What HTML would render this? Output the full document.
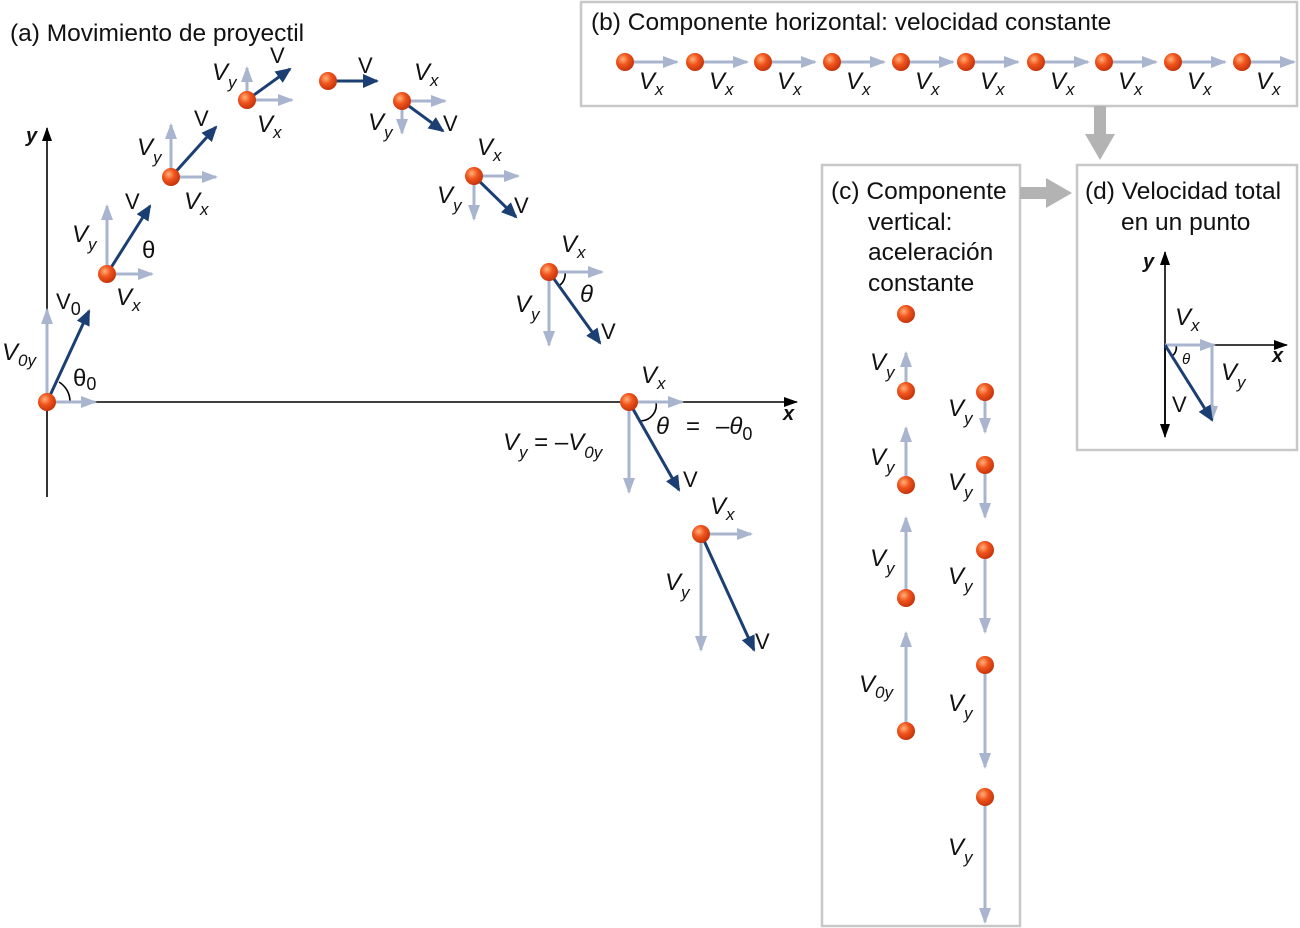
<!DOCTYPE html>
<html><head><meta charset="utf-8"><style>
html,body{margin:0;padding:0;background:#fff}
svg{display:block}
text{font-family:"Liberation Sans",sans-serif;fill:#111}
.l{font-size:22px}
.t{font-size:24.5px}
.i{font-style:italic;font-size:24px}
</style></head><body>
<svg width="1300" height="928" viewBox="0 0 1300 928" xmlns="http://www.w3.org/2000/svg">
<defs>
<radialGradient id="b" cx="0.38" cy="0.35" r="0.7">
<stop offset="0" stop-color="#ffb27a"/><stop offset="0.45" stop-color="#f0541c"/><stop offset="1" stop-color="#c0300a"/></radialGradient>
<marker id="la" markerUnits="userSpaceOnUse" markerWidth="16" markerHeight="12" refX="14" refY="6" orient="auto"><path d="M0,0L16,6L0,12z" fill="#a9b5cf"/></marker>
<marker id="da" markerUnits="userSpaceOnUse" markerWidth="16" markerHeight="14" refX="14" refY="7" orient="auto"><path d="M0,0L16,7L0,14z" fill="#1b3f73"/></marker>
<marker id="ka" markerUnits="userSpaceOnUse" markerWidth="14" markerHeight="10" refX="13" refY="5" orient="auto"><path d="M0,0L14,5L0,10z" fill="#000"/></marker>
<marker id="ga" markerUnits="userSpaceOnUse" markerWidth="30" markerHeight="30" refX="2" refY="15" orient="auto"><path d="M0,0L26,15L0,30z" fill="#b3b3b3"/></marker>
</defs>
<g fill="none" stroke-width="1.6" stroke="#000">
<line x1="47" y1="497" x2="47" y2="128" marker-end="url(#ka)"/>
<line x1="47" y1="402" x2="797" y2="402" marker-end="url(#ka)"/>
<line x1="1165" y1="435" x2="1165" y2="252" marker-end="url(#ka)"/>
<line x1="1165" y1="345" x2="1165" y2="437" marker-end="url(#ka)"/>
<line x1="1165" y1="345" x2="1287" y2="345" marker-end="url(#ka)"/>
<path d="M70,402 A23,23 0 0 0 59,382"/>
<path d="M560,285 A14,14 0 0 0 565,272"/>
<path d="M641,421 A16,16 0 0 0 656,402"/>
<path d="M1172,356 A10,10 0 0 0 1176,345"/>
</g>
<g stroke="#a9b5cf" stroke-width="3" marker-end="url(#la)">
<line x1="47" y1="402" x2="95" y2="402"/><line x1="47" y1="402" x2="47" y2="310"/>
<line x1="107" y1="274" x2="152" y2="274"/><line x1="107" y1="274" x2="107" y2="206"/>
<line x1="171" y1="177" x2="216" y2="177"/><line x1="171" y1="177" x2="171" y2="125"/>
<line x1="247" y1="100" x2="292" y2="100"/><line x1="247" y1="100" x2="247" y2="68"/>
<line x1="402" y1="101" x2="445" y2="101"/><line x1="402" y1="101" x2="402" y2="133"/>
<line x1="474" y1="176" x2="518" y2="176"/><line x1="474" y1="176" x2="474" y2="219"/>
<line x1="549" y1="272" x2="602" y2="272"/><line x1="549" y1="272" x2="549" y2="345"/>
<line x1="629" y1="402" x2="682" y2="402"/><line x1="629" y1="402" x2="629" y2="492"/>
<line x1="701" y1="534" x2="751" y2="534"/><line x1="701" y1="534" x2="701" y2="650"/>
<line x1="625" y1="62" x2="677" y2="62"/><line x1="695" y1="62" x2="747" y2="62"/><line x1="763" y1="62" x2="815" y2="62"/><line x1="832" y1="62" x2="884" y2="62"/><line x1="901" y1="62" x2="953" y2="62"/><line x1="966" y1="62" x2="1018" y2="62"/><line x1="1036" y1="62" x2="1088" y2="62"/><line x1="1104" y1="62" x2="1156" y2="62"/><line x1="1173" y1="62" x2="1225" y2="62"/><line x1="1242" y1="62" x2="1294" y2="62"/>
<line x1="906" y1="391" x2="906" y2="353"/><line x1="906" y1="485" x2="906" y2="428"/><line x1="906" y1="598" x2="906" y2="518"/><line x1="906" y1="731" x2="906" y2="633"/>
<line x1="985" y1="392" x2="985" y2="432"/><line x1="985" y1="465" x2="985" y2="517"/><line x1="985" y1="550" x2="985" y2="632"/><line x1="985" y1="665" x2="985" y2="767"/><line x1="985" y1="797" x2="985" y2="922"/>
<line x1="1165" y1="345" x2="1214" y2="345"/><line x1="1212" y1="345" x2="1212" y2="420"/>
</g>
<g stroke="#1b3f73" stroke-width="3" marker-end="url(#da)">
<line x1="47" y1="402" x2="89" y2="311"/><line x1="107" y1="274" x2="150" y2="206"/><line x1="171" y1="177" x2="216" y2="127"/><line x1="247" y1="100" x2="290" y2="69"/><line x1="328" y1="81" x2="377" y2="81"/><line x1="402" y1="101" x2="443" y2="131"/><line x1="474" y1="176" x2="516" y2="217"/><line x1="549" y1="272" x2="600" y2="343"/><line x1="629" y1="402" x2="679" y2="490"/><line x1="701" y1="534" x2="754" y2="650"/><line x1="1165" y1="345" x2="1212" y2="420"/>
</g>
<g fill="url(#b)">
<circle cx="47" cy="402" r="9"/><circle cx="107" cy="274" r="9"/><circle cx="171" cy="177" r="9"/><circle cx="247" cy="100" r="9"/><circle cx="328" cy="81" r="9"/><circle cx="402" cy="101" r="9"/><circle cx="474" cy="176" r="9"/><circle cx="549" cy="272" r="9"/><circle cx="629" cy="402" r="9"/><circle cx="701" cy="534" r="9"/>
<circle cx="625" cy="62" r="9"/><circle cx="695" cy="62" r="9"/><circle cx="763" cy="62" r="9"/><circle cx="832" cy="62" r="9"/><circle cx="901" cy="62" r="9"/><circle cx="966" cy="62" r="9"/><circle cx="1036" cy="62" r="9"/><circle cx="1104" cy="62" r="9"/><circle cx="1173" cy="62" r="9"/><circle cx="1242" cy="62" r="9"/>
<circle cx="906" cy="314" r="9"/><circle cx="906" cy="391" r="9"/><circle cx="906" cy="485" r="9"/><circle cx="906" cy="598" r="9"/><circle cx="906" cy="731" r="9"/>
<circle cx="985" cy="392" r="9"/><circle cx="985" cy="465" r="9"/><circle cx="985" cy="550" r="9"/><circle cx="985" cy="665" r="9"/><circle cx="985" cy="797" r="9"/>
</g>
<g fill="none" stroke="#c8c8c8" stroke-width="2.5">
<rect x="581" y="2" width="716" height="104"/>
<rect x="822" y="165" width="198" height="761"/>
<rect x="1077" y="165" width="220" height="285"/>
</g>
<g stroke="#b3b3b3" stroke-width="12" marker-end="url(#ga)">
<line x1="1100" y1="106" x2="1100" y2="136"/>
<line x1="1020" y1="193" x2="1048" y2="193"/>
</g>
<text x="10" y="41" class="t">(a) Movimiento de proyectil</text>
<text x="591" y="30" class="t">(b) Componente horizontal: velocidad constante</text>
<text x="831" y="199" class="t">(c) Componente</text>
<text x="868" y="230" class="t">vertical:</text>
<text x="868" y="260" class="t">aceleración</text>
<text x="868" y="291" class="t">constante</text>
<text x="1085" y="199" class="t">(d) Velocidad total</text>
<text x="1121" y="230" class="t">en un punto</text>
<g font-weight="bold" font-style="italic" font-size="20">
<text x="26" y="142">y</text><text x="783" y="420">x</text><text x="1143" y="268">y</text><text x="1272" y="362">x</text></g>
<g class="l">
<text x="56" y="309">V<tspan dy="6" font-size="18">0</tspan></text>
<text x="125" y="209">V</text><text x="194" y="126">V</text><text x="270" y="63">V</text><text x="358" y="73">V</text><text x="443" y="131">V</text><text x="514" y="213">V</text><text x="601" y="339">V</text><text x="683" y="487">V</text><text x="755" y="649">V</text><text x="1172" y="412">V</text>
</g>
<g font-size="24" font-family="Liberation Serif,serif">
<text x="142" y="258">θ</text><text x="73" y="386">θ<tspan font-size="18" font-family="Liberation Sans" dy="4">0</tspan></text>
<text x="580" y="302" font-style="italic">θ</text>
<text x="656" y="434" font-style="italic">θ</text><text x="686" y="434">=</text><text x="716" y="434">–<tspan font-style="italic">θ</tspan><tspan font-size="18" font-family="Liberation Sans" dy="6">0</tspan></text>
<text x="1182" y="364" font-size="15" font-style="italic">θ</text>
</g>
<g class="i">
<text x="2" y="360">V<tspan font-size="17" dy="6">0y</tspan></text>
<text x="72" y="242">V<tspan font-size="17" dy="8">y</tspan></text>
<text x="116" y="305">V<tspan font-size="17" dy="6">x</tspan></text>
<text x="137" y="155">V<tspan font-size="17" dy="8">y</tspan></text>
<text x="184" y="209">V<tspan font-size="17" dy="6">x</tspan></text>
<text x="212" y="80">V<tspan font-size="17" dy="8">y</tspan></text>
<text x="257" y="132">V<tspan font-size="17" dy="6">x</tspan></text>
<text x="414" y="80">V<tspan font-size="17" dy="6">x</tspan></text>
<text x="368" y="130">V<tspan font-size="17" dy="8">y</tspan></text>
<text x="477" y="155">V<tspan font-size="17" dy="6">x</tspan></text>
<text x="437" y="203">V<tspan font-size="17" dy="8">y</tspan></text>
<text x="561" y="252">V<tspan font-size="17" dy="6">x</tspan></text>
<text x="515" y="312">V<tspan font-size="17" dy="8">y</tspan></text>
<text x="641" y="383">V<tspan font-size="17" dy="6">x</tspan></text>
<text x="503" y="450">V<tspan font-size="17" dy="8">y</tspan><tspan dy="-8" font-style="normal"> = –</tspan>V<tspan font-size="17" dy="8">0y</tspan></text>
<text x="710" y="514">V<tspan font-size="17" dy="6">x</tspan></text>
<text x="665" y="590">V<tspan font-size="17" dy="8">y</tspan></text>
<text x="639" y="89">V<tspan font-size="17" dy="6">x</tspan></text><text x="709" y="89">V<tspan font-size="17" dy="6">x</tspan></text><text x="777" y="89">V<tspan font-size="17" dy="6">x</tspan></text><text x="846" y="89">V<tspan font-size="17" dy="6">x</tspan></text><text x="915" y="89">V<tspan font-size="17" dy="6">x</tspan></text><text x="980" y="89">V<tspan font-size="17" dy="6">x</tspan></text><text x="1050" y="89">V<tspan font-size="17" dy="6">x</tspan></text><text x="1118" y="89">V<tspan font-size="17" dy="6">x</tspan></text><text x="1187" y="89">V<tspan font-size="17" dy="6">x</tspan></text><text x="1256" y="89">V<tspan font-size="17" dy="6">x</tspan></text>
<text x="870" y="370">V<tspan font-size="17" dy="8">y</tspan></text>
<text x="870" y="465">V<tspan font-size="17" dy="8">y</tspan></text>
<text x="870" y="566">V<tspan font-size="17" dy="8">y</tspan></text>
<text x="859" y="692">V<tspan font-size="17" dy="6">0y</tspan></text>
<text x="948" y="416">V<tspan font-size="17" dy="8">y</tspan></text>
<text x="948" y="490">V<tspan font-size="17" dy="8">y</tspan></text>
<text x="948" y="584">V<tspan font-size="17" dy="8">y</tspan></text>
<text x="948" y="711">V<tspan font-size="17" dy="8">y</tspan></text>
<text x="948" y="855">V<tspan font-size="17" dy="8">y</tspan></text>
<text x="1175" y="325">V<tspan font-size="17" dy="6">x</tspan></text>
<text x="1221" y="380">V<tspan font-size="17" dy="8">y</tspan></text>
</g>
</svg>
</body></html>
